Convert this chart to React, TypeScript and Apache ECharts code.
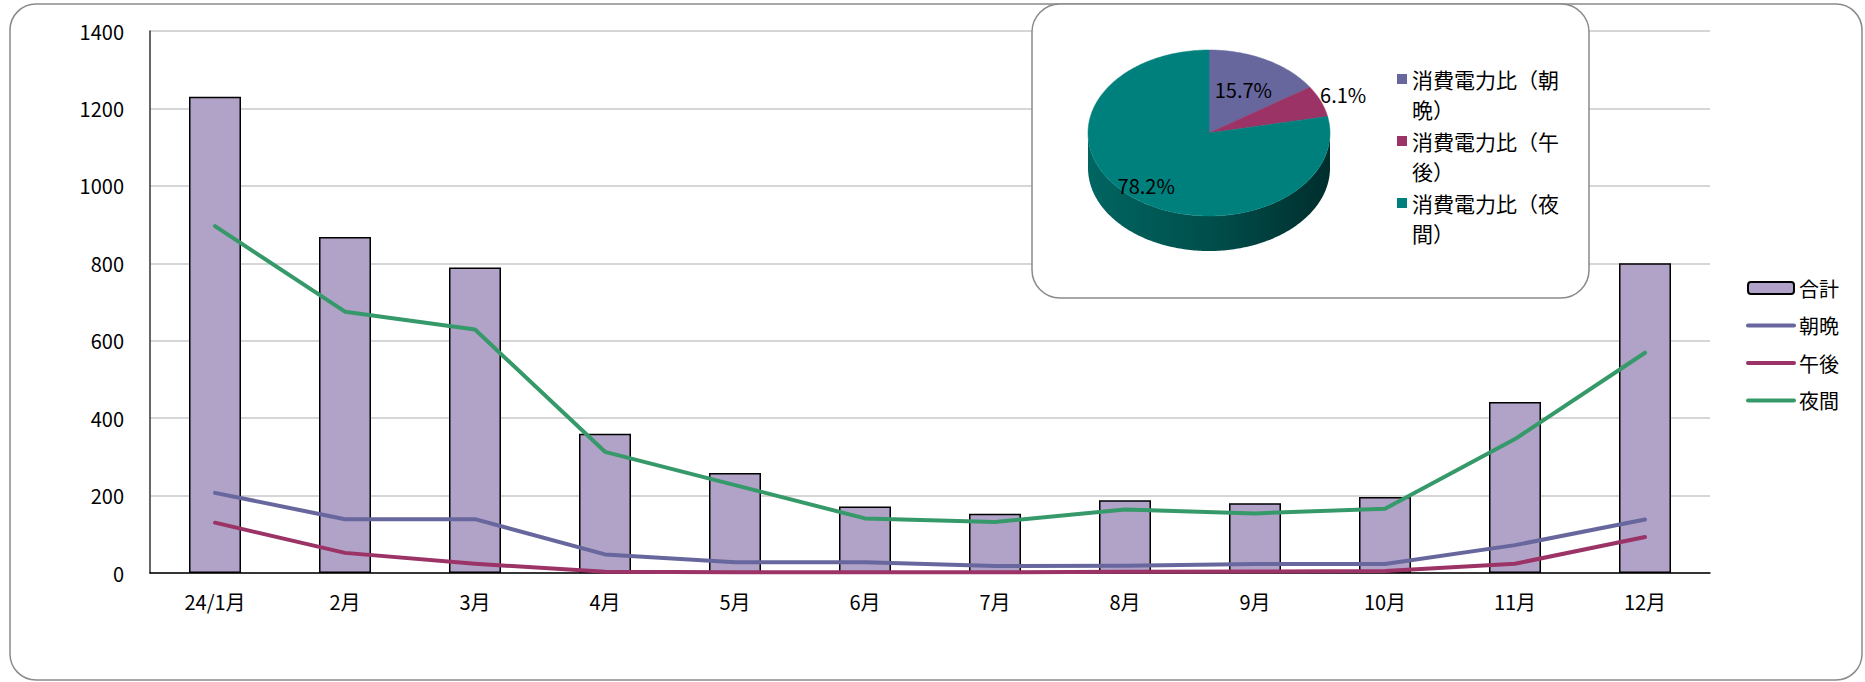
import React, { useEffect, useRef } from "react";
import * as echarts from "echarts";

const months = ["24/1月", "2月", "3月", "4月", "5月", "6月", "7月", "8月", "9月", "10月", "11月", "12月"];
const totalValues = [1230, 868, 789, 360, 258, 172, 153, 188, 180, 196, 442, 800];
const morningEvening = [207, 139, 139, 48, 28, 28, 18, 19, 23, 23, 72, 138];
const afternoon = [130, 52, 24, 3, 2, 2, 2, 3, 4, 5, 24, 93];
const night = [896, 675, 629, 313, 227, 141, 132, 164, 154, 166, 346, 569];
const yMax = 1400;
const yInterval = 200;

const pieNames = ["消費電力比（朝晩）", "消費電力比（午後）", "消費電力比（夜間）"];
const pieValues = [15.7, 6.1, 78.2];

const FONT = "'Noto Sans CJK JP', 'Noto Sans', sans-serif";
const pieColors = ["#67679e", "#9b3366", "#00807c"];
const lineColors = ["#67679e", "#9b3366", "#36996a"];
const PIE = { cx: 1209, cy: 133, rx: 121, ry: 83, depth: 35 };
const pieLabelRadius = [0.6, 1.2, 0.82];

function makeRenderSlice(idx: number) {
  return (params: any, api: any) => {
    const total = pieValues.reduce((a, b) => a + b, 0);
    const v = api.value(0);
    const before = pieValues.slice(0, idx).reduce((a, b) => a + b, 0);
    const a0 = (before / total) * Math.PI * 2;
    const a1 = ((before + v) / total) * Math.PI * 2;
    const { cx, cy, rx, ry, depth } = PIE;
    const pt = (t: number, dy = 0) => [cx + rx * Math.sin(t), cy - ry * Math.cos(t) + dy];
    const step = Math.PI / 180;
    const children: any[] = [];
    const s = Math.max(a0, Math.PI / 2);
    const e = Math.min(a1, (Math.PI * 3) / 2);
    if (e > s) {
      const pts: number[][] = [];
      for (let t = s; t < e; t += step) pts.push(pt(t));
      pts.push(pt(e));
      for (let t = e; t > s; t -= step) pts.push(pt(t, depth));
      pts.push(pt(s, depth));
      children.push({
        type: "polygon",
        shape: { points: pts },
        style: {
          fill: new echarts.graphic.LinearGradient(0, 0, 1, 0, [
            { offset: 0, color: "#006561" },
            { offset: 0.5, color: "#004f4c" },
            { offset: 1, color: "#002e2d" },
          ]),
        },
      });
    }
    const top: number[][] = [[cx, cy]];
    for (let t = a0; t < a1; t += step) top.push(pt(t));
    top.push(pt(a1));
    children.push({
      type: "polygon",
      shape: { points: top },
      style: { fill: pieColors[idx], stroke: pieColors[idx], lineWidth: 0.5 },
    });
    const mid = (a0 + a1) / 2;
    const r = pieLabelRadius[idx];
    children.push({
      type: "text",
      x: cx + rx * r * Math.sin(mid),
      y: cy - ry * r * Math.cos(mid),
      style: {
        text: v.toFixed(1) + "%",
        fontSize: 20,
        fontFamily: FONT,
        fill: "#000",
        align: "center",
        verticalAlign: "middle",
      },
    });
    return { type: "group", children };
  };
}

export default function App() {
  const ref = useRef<HTMLDivElement>(null);
  useEffect(() => {
    if (!ref.current) return;
    const chart = echarts.init(ref.current, null, { renderer: "svg" });
    const lineItem = (name: string) => ({
      name,
      itemStyle: { opacity: 0 },
      lineStyle: { width: 4, cap: "round" },
    });
    const option: any = {
      animation: false,
      backgroundColor: "#fff",
      textStyle: { fontFamily: FONT },
      graphic: [
        {
          type: "rect",
          z: -1,
          shape: { x: 10, y: 4, width: 1852, height: 676, r: 26 },
          style: { fill: "none", stroke: "#8a8a8a", lineWidth: 1.5 },
        },
        {
          type: "rect",
          z: 5,
          shape: { x: 1032, y: 4, width: 557, height: 294, r: 28 },
          style: { fill: "#fff", stroke: "#8a8a8a", lineWidth: 1.5 },
        },
      ],
      legend: [
        {
          data: ["合計", lineItem("朝晩"), lineItem("午後"), lineItem("夜間")],
          orient: "vertical",
          left: 1746,
          top: 278,
          padding: 0,
          itemWidth: 46,
          itemHeight: 12,
          itemGap: 17.5,
          selectedMode: false,
          lineStyle: { width: 4 },
          textStyle: { fontSize: 20, lineHeight: 20, color: "#000", fontFamily: FONT },
        },
        {
          data: pieNames,
          orient: "vertical",
          left: 1397,
          top: 34,
          padding: 0,
          z: 10,
          icon: "rect",
          itemWidth: 10,
          itemHeight: 10,
          itemGap: -28,
          selectedMode: false,
          formatter: (name: string) => "\n" + name.slice(0, 7) + "\n" + name.slice(7),
          textStyle: {
            fontSize: 21,
            lineHeight: 30,
            color: "#000",
            fontFamily: FONT,
          },
        },
      ],
      grid: { left: 150, top: 31, width: 1560, height: 542, containLabel: false },
      xAxis: {
        type: "category",
        data: months,
        boundaryGap: true,
        axisLine: { lineStyle: { color: "#000", width: 1.5 } },
        axisTick: { show: false },
        axisLabel: { fontSize: 20, color: "#000", margin: 18, fontFamily: FONT },
      },
      yAxis: {
        type: "value",
        min: 0,
        max: yMax,
        interval: yInterval,
        axisLine: { show: true, lineStyle: { color: "#333", width: 1.5 } },
        axisTick: { show: false },
        splitLine: { lineStyle: { color: "#c8c8c8", width: 1.5 } },
        axisLabel: {
          fontSize: 20,
          color: "#000",
          margin: 26,
          fontFamily: FONT,
          formatter: (v: number) => String(v),
        },
      },
      series: [
        {
          name: "合計",
          type: "bar",
          data: totalValues,
          barWidth: 52,
          itemStyle: { color: "#b1a2c7", borderColor: "#000", borderWidth: 1.5 },
          z: 2,
        },
        {
          name: "朝晩",
          type: "line",
          data: morningEvening,
          symbol: "none",
          lineStyle: { color: lineColors[0], width: 4, cap: "round", join: "round" },
          itemStyle: { color: lineColors[0] },
          z: 3,
        },
        {
          name: "午後",
          type: "line",
          data: afternoon,
          symbol: "none",
          lineStyle: { color: lineColors[1], width: 4, cap: "round", join: "round" },
          itemStyle: { color: lineColors[1] },
          z: 3,
        },
        {
          name: "夜間",
          type: "line",
          data: night,
          symbol: "none",
          lineStyle: { color: lineColors[2], width: 4, cap: "round", join: "round" },
          itemStyle: { color: lineColors[2] },
          z: 3,
        },
        ...pieNames.map((name, i) => ({
          name,
          type: "custom",
          coordinateSystem: "none",
          z: 10,
          itemStyle: { color: pieColors[i] },
          data: [[pieValues[i]]],
          renderItem: makeRenderSlice(i),
        })),
      ],
    };
    chart.setOption(option);
    return () => chart.dispose();
  }, []);
  return (
    <div
      ref={ref}
      style={{ position: "absolute", left: 0, top: 0, width: 1865, height: 682 }}
    />
  );
}
